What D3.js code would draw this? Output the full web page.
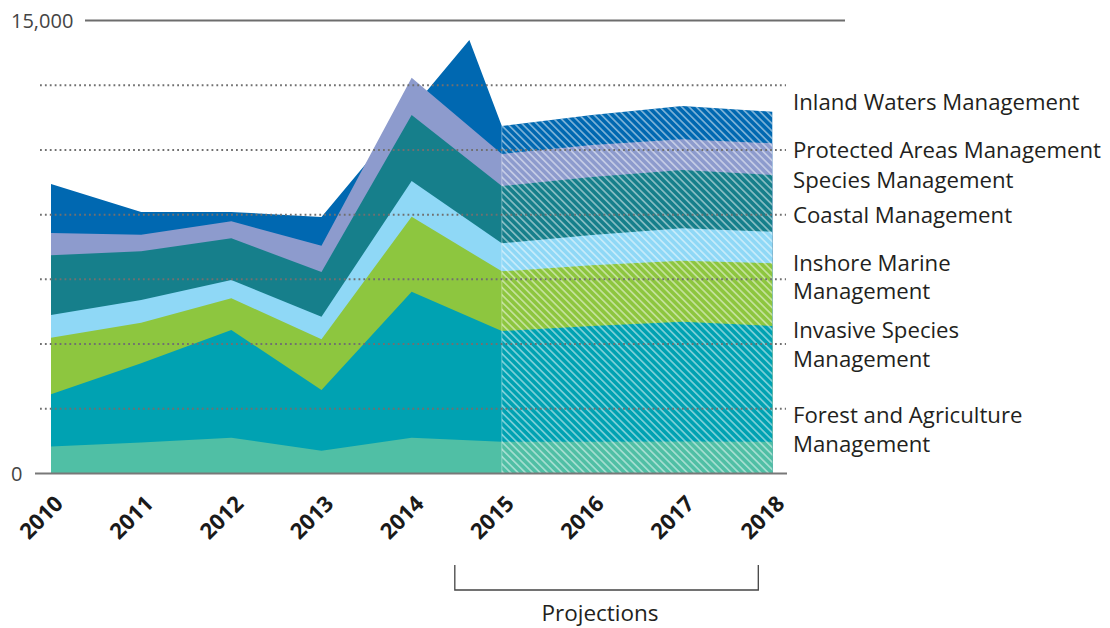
<!DOCTYPE html>
<html>
<head>
<meta charset="utf-8">
<script src="https://cdn.jsdelivr.net/npm/d3@7"></script>
<style>
  html, body { margin: 0; padding: 0; background: #ffffff; }
  svg { display: block; }
  text { font-family: "Open Sans", "Noto Sans", sans-serif; }
</style>
</head>
<body>
<svg id="chart" width="1110" height="628"></svg>
<script>
// ---------------- DATA ----------------
const years = [2010, 2011, 2012, 2013, 2014, 2015, 2016, 2017, 2018];
const firstProjectionYear = 2015;

const seriesKeys = ["forest", "invasive", "inshore", "coastal", "species", "protected", "inland"]; // bottom to top
const seriesLabels = [
  ["Forest and Agriculture", "Management"],
  ["Invasive Species", "Management"],
  ["Inshore Marine", "Management"],
  ["Coastal Management"],
  ["Species Management"],
  ["Protected Areas Management"],
  ["Inland Waters Management"]
];

const forest    = [890, 1030, 1185, 755, 1185, 1053, 1053, 1060, 1053];
const invasive  = [1733, 2619, 3567, 2010, 4835, 3666, 3831, 3967, 3831];
const inshore   = [1874, 1344, 1049, 1679, 2483, 1976, 2010, 2019, 2076];
const coastal   = [751, 752, 606, 748, 1183, 928, 1004, 1073, 1047];
const species   = [1977, 1613, 1381, 1480, 2185, 1897, 1920, 1931, 1877];
const protectedAreas = [739, 549, 563, 871, 1235, 1060, 1060, 1016, 1050];
const inland    = [1622, 752, 308, 951, null, 927, 993, 1103, 1046];
// Inland Waters peaks between 2014 and 2015 (total of all series at that point)
const inlandPeakYear = 2014.64;
const inlandPeakTotal = 14354;

const yAxisLabels = [0, 15000];
const gridCount = 7;
const projectionsLabel = "Projections";

const colors = ["#50bfa5", "#00a2b2", "#8dc63f", "#8fd8f6", "#167f8b", "#8d9bcd", "#0068b1"];

// ---------------- LAYOUT ----------------
const svg = d3.select("#chart");
const x = d3.scaleLinear().domain([2010, 2018]).range([51, 772.3]);
const y = d3.scaleLinear().domain([0, 15000]).range([473.5, 20.5]);

const seriesValues = { forest, invasive, inshore, coastal, species, protected: protectedAreas, inland };
const rows = years.map((yr, i) => {
  const r = { year: yr };
  seriesKeys.forEach(k => r[k] = seriesValues[k][i]);
  return r;
});
const stacked = d3.stack().keys(seriesKeys).value((d, k) => d[k] == null ? 0 : d[k])(rows);

// cumulative tops per series
const tops = stacked.map((layer, li) => {
  const key = seriesKeys[li];
  let pts = layer.map((p, i) => ({ year: years[i], top: p[1], val: seriesValues[key][i] }))
                 .filter(p => p.val != null);
  if (key === "inland") {
    pts.push({ year: inlandPeakYear, top: inlandPeakTotal });
    pts.sort((a, b) => a.year - b.year);
  }
  return pts;
});

const area = d3.area().x(d => x(d.year)).y0(y(0)).y1(d => y(d.top)).curve(d3.curveLinear);

// hatch pattern for projections
const defs = svg.append("defs");
const pat = defs.append("pattern")
  .attr("id", "hatch").attr("patternUnits", "userSpaceOnUse")
  .attr("width", 5.2).attr("height", 5.2)
  .attr("patternTransform", "rotate(-45)");
pat.append("rect").attr("x", 0).attr("y", 0).attr("width", 1.7).attr("height", 5.2)
  .attr("fill", "#ffffff").attr("fill-opacity", 0.48);

// areas: draw top layer first so lower layers cover it
const gAreas = svg.append("g");
for (let li = seriesKeys.length - 1; li >= 0; li--) {
  gAreas.append("path").datum(tops[li]).attr("d", area).attr("fill", colors[li]);
}
// projection hatch overlay
const projTop = tops[seriesKeys.length - 1].filter(p => p.year >= firstProjectionYear);
gAreas.append("path").datum(projTop).attr("d", area).attr("fill", "url(#hatch)");
gAreas.append("line")
  .attr("x1", x(firstProjectionYear)).attr("x2", x(firstProjectionYear))
  .attr("y1", y(0)).attr("y2", y(projTop[0].top))
  .attr("stroke", "#ffffff").attr("stroke-opacity", 0.3).attr("stroke-width", 1.2);

// dotted gridlines
const gridVals = d3.range(1, gridCount).map(k => 15000 * k / gridCount);
svg.append("g").selectAll("line").data(gridVals).join("line")
  .attr("x1", 40).attr("x2", 786)
  .attr("y1", d => y(d)).attr("y2", d => y(d))
  .attr("stroke", "#707070").attr("stroke-width", 2)
  .attr("stroke-dasharray", "1.8,3.1");

// top solid line and baseline
svg.append("line").attr("x1", 85).attr("x2", 845).attr("y1", y(15000)).attr("y2", y(15000))
  .attr("stroke", "#6d6d6d").attr("stroke-width", 2);
svg.append("line").attr("x1", 35).attr("x2", 787).attr("y1", y(0)).attr("y2", y(0))
  .attr("stroke", "#787878").attr("stroke-width", 2.2);

// y labels
svg.append("g").selectAll("text").data(yAxisLabels).join("text")
  .attr("x", 11).attr("y", d => y(d) + 7.5)
  .attr("font-size", 20).attr("fill", "#444")
  .text(d => d3.format(",")(d));

// x axis year labels
const xAxis = d3.axisBottom(x).tickValues(years).tickFormat(d3.format("d")).tickSize(0);
const gx = svg.append("g").attr("transform", `translate(0,${y(0)})`).call(xAxis);
gx.select(".domain").remove();
gx.selectAll("text")
  .attr("x", 0).attr("y", 0).attr("dy", 0)
  .attr("text-anchor", "end")
  .attr("transform", "translate(13,31.5) rotate(-45)")
  .attr("font-size", 22).attr("font-weight", 700).attr("fill", "#1a1a1a")
  .attr("font-family", "'Open Sans', sans-serif");

// legend labels (right side)
const legendBaselines = [[423, 451.7], [338.2, 367], [270.5, 299.3], [222.7], [188], [158], [110]];
const gLeg = svg.append("g");
seriesLabels.forEach((lines, i) => {
  const t = gLeg.append("text").attr("font-size", 22.2).attr("fill", "#231f20");
  lines.forEach((line, j) => {
    t.append("tspan").attr("x", 793).attr("y", legendBaselines[i][j]).text(line);
  });
});

// projections bracket
const bx1 = x(firstProjectionYear) - 47, bx2 = x(2018) - 14;
svg.append("path")
  .attr("d", `M${bx1},565 V590 H${bx2} V565`)
  .attr("fill", "none").attr("stroke", "#444").attr("stroke-width", 1.3);
svg.append("text").attr("x", 600).attr("y", 621)
  .attr("text-anchor", "middle").attr("font-size", 22.5).attr("fill", "#231f20")
  .text(projectionsLabel);
</script>
</body>
</html>
